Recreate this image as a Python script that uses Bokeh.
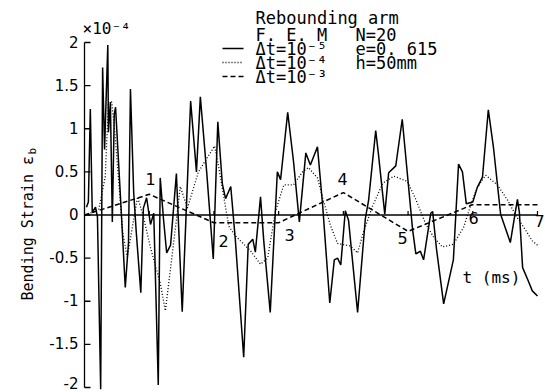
import math
from bokeh.plotting import figure
from bokeh.models import Range1d, ColumnDataSource
from bokeh.core.properties import value
from bokeh.embed import file_html
from bokeh.resources import INLINE

# ---------------- data ----------------
# solid: dt = 1e-5
t_solid = [0.03, 0.06, 0.09, 0.12, 0.17, 0.20, 0.25, 0.28, 0.31, 0.36, 0.37, 0.40, 0.43, 0.46, 0.48,
           0.56, 0.63, 0.68, 0.71, 0.76, 0.80, 0.87, 0.91, 0.96, 1.02, 1.07, 1.14, 1.17, 1.22, 1.27,
           1.33, 1.42, 1.51, 1.64, 1.73, 1.79, 1.89, 1.99, 2.06, 2.13, 2.18, 2.26, 2.33, 2.46, 2.53,
           2.60, 2.64, 2.72, 2.77, 2.87, 2.98, 3.03, 3.14, 3.23, 3.32, 3.42, 3.49, 3.60, 3.68, 3.79,
           3.86, 3.91, 3.96, 4.03, 4.08, 4.22, 4.34, 4.39, 4.50, 4.54, 4.64, 4.70, 4.81, 4.91, 5.07,
           5.12, 5.19, 5.24, 5.35, 5.38, 5.44, 5.55, 5.70, 5.78, 5.84, 5.90, 6.00, 6.07, 6.15, 6.24,
           6.32, 6.43, 6.58, 6.69, 6.72, 6.77, 6.85, 6.92, 7.00]
v_solid = [0.09, 0.15, 1.23, 0.03, 0.09, -0.02, -2.02, 1.71, 0.76, 1.97, 0.96, 1.31, -0.08, 1.17, 1.25,
           0.15, -0.84, -0.32, 1.46, 0.26, -0.20, -0.90, 0.08, 0.20, -0.11, 0.02, -1.97, 0.43, -0.04, -0.44,
           -0.35, 0.48, -1.12, 1.32, 0.50, 1.37, 0.48, -0.51, 1.08, 0.36, 0.19, 0.33, -0.28, -1.65, -0.34,
           -0.28, -0.43, 0.21, -0.30, -1.13, 0.50, 0.41, 1.19, 0.62, -0.08, 0.72, 0.58, 0.79, 0.11, -1.02,
           -0.52, -0.50, -0.58, 0.05, -0.06, -1.13, -0.04, 0.17, 0.98, 0.72, 0.01, 0.49, 0.57, 1.11, -0.17,
           -0.45, -0.42, -0.52, 0.02, 0.04, -0.40, -1.03, -0.52, 0.59, 0.50, 0.13, 0.15, 0.32, 0.44, 1.22,
           0.78, 0.01, -0.32, 0.18, 0.03, -0.61, -0.75, -0.88, -0.94]

# dotted: dt = 1e-4
t_dot = [0.05, 0.22, 0.32, 0.37, 0.42, 0.47, 0.53, 0.59, 0.66, 0.82, 0.91, 1.02, 1.17, 1.25, 1.41,
         1.48, 1.59, 1.76, 2.01, 2.07, 2.23, 2.33, 2.57, 2.72, 2.83, 2.95, 3.08, 3.23, 3.37, 3.46,
         3.60, 3.68, 3.80, 3.91, 4.11, 4.22, 4.31, 4.45, 4.61, 4.78, 4.99, 5.12, 5.27, 5.39, 5.53,
         5.70, 5.86, 5.97, 6.07, 6.20, 6.38, 6.54, 6.66, 6.82, 6.92, 7.00]
v_dot = [0.01, 0.06, 0.44, 1.31, 1.31, 0.95, 0.38, -0.20, -0.49, 0.21, -0.02, -0.38, -0.79, -1.11, -0.12,
         0.33, 0.08, 0.50, 0.80, 0.57, -0.13, -0.24, -0.42, -0.57, -0.50, 0.04, 0.35, 0.35, 0.50, 0.55,
         0.43, 0.20, -0.12, -0.33, -0.36, -0.44, -0.20, 0.10, 0.37, 0.45, 0.39, 0.18, -0.10, -0.25, -0.37,
         -0.34, -0.14, 0.12, 0.32, 0.46, 0.35, 0.17, 0.00, -0.18, -0.30, -0.35]

# dashed: dt = 1e-3
t_dash = [0, 1, 2, 3, 4, 5, 6, 7]
v_dash = [0.00, 0.24, -0.09, -0.09, 0.26, -0.19, 0.12, 0.12]

y_ticks = [-2, -1.5, -1, -0.5, 0, 0.5, 1, 1.5, 2]
y_tick_labels = ["-2", "-1.5", "-1", "-0.5", "0", "0.5", "1", "1.5", "2"]
t_ticks = [1, 2, 3, 4, 5, 6, 7]
t_tick_labels = ["1", "2", "3", "4", "5", "6", "7"]
series_labels = ["\u0394t=10\u207b\u2075", "\u0394t=10\u207b\u2074", "\u0394t=10\u207b\u00b3"]
param_labels = ["N=20", "e=0. 615", "h=50mm"]
title_lines = ["Rebounding arm", "F. E. M"]
y_title = "Bending Strain \u03b5"
y_title_sub = "b"
y_unit = "\u00d710\u207b\u2074"
x_title = "t (ms)"

# ---------------- layout helpers (picture pixel -> data) ----------------
FL, FT, FW, FH = 84, 42, 453, 345          # plotting box of the reference
T0, T1, V0, V1 = 0.0, 7.0, -2.0, 2.0
def sx(px):
    return T0 + (px - FL) * (T1 - T0) / FW
def sy(py):
    return V1 - (py - FT) * (V1 - V0) / FH
def dx(pw):
    return pw * (T1 - T0) / FW
def dy(ph):
    return ph * (V1 - V0) / FH

MONO = value("DejaVu Sans Mono")
SANS = value("DejaVu Sans")

W, H = 545, 392
p = figure(width=W, height=H, output_backend="svg", toolbar_location=None,
           x_range=Range1d(sx(0), sx(W)), y_range=Range1d(sy(H), sy(0)),
           x_axis_location=None, y_axis_location=None, min_border=0)
p.grid.visible = False
p.outline_line_color = None

# ---- strain axis (vertical, at t = 0) ----
p.line(x=[T0, T0], y=[y_ticks[0], y_ticks[-1]], line_color="black", line_width=1.3)
p.segment(x0=[T0] * len(y_ticks), y0=y_ticks, x1=[T0 + dx(6)] * len(y_ticks), y1=y_ticks,
          line_color="black", line_width=1.3)
# the lowest label sits a little higher so that it stays inside the page
label_shift = [-5 if v == y_ticks[0] else -1 for v in y_ticks]
ysrc = ColumnDataSource(dict(x=[T0 - dx(6)] * len(y_ticks), y=y_ticks, text=y_tick_labels,
                             off=label_shift))
p.text(x="x", y="y", text="text", source=ysrc, text_align="right", text_baseline="middle",
       y_offset="off", text_font=SANS, text_font_size="15px", text_color="black")

# ---- time axis (horizontal, at zero strain) ----
p.line(x=[T0, t_ticks[-1]], y=[0, 0], line_color="black", line_width=1.3)
p.segment(x0=t_ticks, y0=[0] * len(t_ticks), x1=t_ticks, y1=[dy(4)] * len(t_ticks),
          line_color="black", line_width=1.2)

# ---- series ----
p.line(t_dash, v_dash, line_color="black", line_width=1.5, line_dash="5 3")
p.line(t_dot, v_dot, line_color="black", line_width=1.3, line_dash="1 2")
p.line(t_solid, v_solid, line_color="black", line_width=1.5)

# ---- time tick numbers placed along the curves ----
num_px = [(150, 178), (223, 240), (289, 234), (342, 178), (402, 237), (473, 217), (539, 220)]
nsrc = ColumnDataSource(dict(x=[sx(a) for a, b in num_px], y=[sy(b) for a, b in num_px],
                             text=t_tick_labels))
p.text(x="x", y="y", text="text", source=nsrc, text_align="center", text_baseline="middle",
       text_font=SANS, text_font_size="16px", text_color="black")

def txt(px, py, s, size="17px", font=MONO, align="left", angle=0.0):
    p.text(x=[sx(px)], y=[sy(py)], text=[s], text_align=align, text_baseline="middle",
           angle=angle, text_font=font, text_font_size=size, text_color="black")

txt(462, 277, x_title, size="16px")
txt(82, 28, y_unit, size="16px")
txt(27, 300, y_title, size="15px", angle=math.pi / 2)
txt(32, 154, y_title_sub, size="11px", angle=math.pi / 2)

# ---- legend block ----
txt(255, 17, title_lines[0])
txt(255, 34, title_lines[1])
rows = [48, 62, 76]
dashes = ["solid", "1 2", "5 3"]
widths = [1.5, 1.3, 1.5]
for lab, py, d, w in zip(series_labels, rows, dashes, widths):
    p.line(x=[sx(222), sx(243)], y=[sy(py), sy(py)], line_color="black", line_width=w, line_dash=d)
    txt(255, py, lab)
for lab, py in zip(param_labels, [34, 48, 62]):
    txt(355, py, lab)

open("out.html", "w").write(file_html(p, INLINE))
